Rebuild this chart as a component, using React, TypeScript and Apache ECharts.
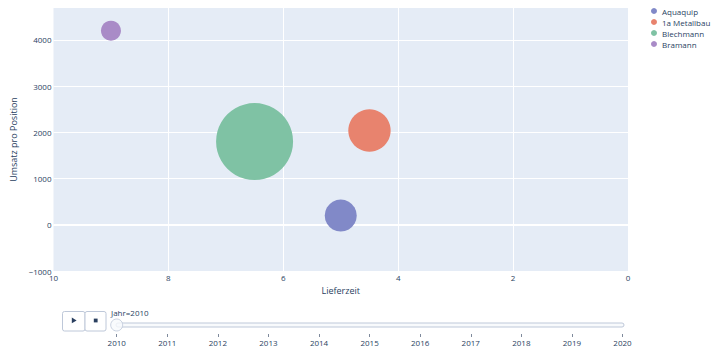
import React, { useEffect, useRef } from "react";
import * as echarts from "echarts";

const lieferanten = ["Aquaquip", "1a Metallbau", "Blechmann", "Bramann"];
const lieferzeit = [5.0, 4.5, 6.5, 9.0];
const umsatzProPosition = [200, 2040, 1800, 4200];
const anzahl = [69, 121, 400, 27];
const farben = ["#8189c8", "#e8836e", "#7fc2a4", "#a98bc7"];
const jahre = [2010, 2011, 2012, 2013, 2014, 2015, 2016, 2017, 2018, 2019, 2020];

const FONT = "'Open Sans', Verdana, Arial, sans-serif";
const TXT = "#2a3f5f";

const fmtNum = (v: number) => (v < 0 ? "\u2212" + Math.abs(v) : String(v));

export default function App() {
  const ref = useRef<HTMLDivElement>(null);
  useEffect(() => {
    if (!ref.current) return;
    const chart = echarts.init(ref.current, null, { renderer: "svg" });
    const maxSize = Math.max(...anzahl);
    const maxDiameter = 77;
    const series: any[] = lieferanten.map((name, i) => ({
      type: "scatter",
      name,
      xAxisIndex: 0,
      yAxisIndex: 0,
      data: [[lieferzeit[i], umsatzProPosition[i], anzahl[i]]],
      symbolSize: (v: number[]) => Math.sqrt(v[2] / maxSize) * maxDiameter,
      itemStyle: { color: farben[i], opacity: 1 },
      z: 3,
      markLine:
        i === 0
          ? {
              silent: true,
              symbol: "none",
              label: { show: false },
              lineStyle: { color: "#ffffff", width: 2, type: "solid" },
              data: [{ yAxis: 0 }],
              z: 1,
            }
          : undefined,
    }));
    series.push({
      type: "scatter",
      name: "slider",
      xAxisIndex: 1,
      yAxisIndex: 1,
      data: [[jahre[0], 1]],
      symbol: "circle",
      symbolSize: 12,
      itemStyle: { color: "#F8FAFC", borderColor: "#BEC8D9", borderWidth: 1 },
      z: 10,
      silent: true,
    });

    chart.setOption({
      animation: false,
      textStyle: { fontFamily: FONT },
      grid: [
        {
          left: 53.5,
          right: 715 - 628,
          top: 8,
          bottom: 355 - 271,
          show: true,
          backgroundColor: "#E5ECF6",
          borderWidth: 0,
        },
        { left: 116.7, right: 715 - 622.5, top: 316, height: 18, show: false },
      ],
      legend: {
        data: lieferanten,
        orient: "vertical",
        left: 646,
        top: 1,
        width: 69,
        icon: "circle",
        itemWidth: 6,
        itemHeight: 6,
        itemGap: 1,
        textStyle: { fontSize: 8, color: TXT, lineHeight: 10, fontFamily: FONT },
      },
      xAxis: [
        {
          type: "value",
          gridIndex: 0,
          min: 0,
          max: 10,
          interval: 2,
          inverse: true,
          name: "Lieferzeit",
          nameLocation: "middle",
          nameGap: 15,
          nameTextStyle: { fontSize: 9, color: TXT },
          axisLine: { show: false },
          axisTick: { show: false },
          axisLabel: { fontSize: 8, color: TXT, margin: 2, formatter: fmtNum },
          splitLine: {
            show: true,
            lineStyle: { color: "#ffffff", width: 1 },
            showMinLine: false,
            showMaxLine: false,
          },
        },
        {
          type: "value",
          gridIndex: 1,
          min: 2010,
          max: 2020,
          interval: 1,
          axisLine: { show: false },
          axisTick: { show: true, length: 3, lineStyle: { color: "#7f8a9c" } },
          axisLabel: { fontSize: 8, color: TXT, margin: 4, formatter: (v: number) => String(v) },
          splitLine: { show: false },
        },
      ],
      yAxis: [
        {
          type: "value",
          gridIndex: 0,
          min: -1000,
          max: 4690,
          interval: 1000,
          name: "Umsatz pro Position",
          nameLocation: "middle",
          nameGap: 36,
          nameTextStyle: { fontSize: 9, color: TXT },
          axisLine: { show: false },
          axisTick: { show: false },
          axisLabel: { fontSize: 8, color: TXT, margin: 2, showMaxLabel: false, formatter: fmtNum },
          splitLine: {
            show: true,
            lineStyle: { color: "#ffffff", width: 1 },
            showMinLine: false,
            showMaxLine: false,
          },
        },
        {
          type: "value",
          gridIndex: 1,
          min: 0,
          max: 2,
          show: false,
        },
      ],
      graphic: [
        {
          type: "rect",
          shape: { x: 116, y: 323, width: 508, height: 4, r: 2 },
          style: { fill: "#F8FAFC", stroke: "#BEC8D9", lineWidth: 1 },
          z: 1,
          silent: true,
        },
        {
          type: "rect",
          shape: { x: 62.5, y: 311.5, width: 22.5, height: 19.5, r: 2 },
          style: { fill: "#ffffff", stroke: "#BEC8D9", lineWidth: 1 },
          silent: true,
        },
        {
          type: "rect",
          shape: { x: 85, y: 311.5, width: 21, height: 19.5, r: 2 },
          style: { fill: "#ffffff", stroke: "#BEC8D9", lineWidth: 1 },
          silent: true,
        },
        {
          type: "polygon",
          shape: { points: [[71.8, 317.5], [71.8, 323.3], [76.6, 320.4]] },
          style: { fill: TXT },
          silent: true,
        },
        {
          type: "rect",
          shape: { x: 93.8, y: 318.6, width: 3.8, height: 3.8 },
          style: { fill: TXT },
          silent: true,
        },
        {
          type: "text",
          x: 111,
          y: 312.5,
          style: {
            text: `Jahr=${jahre[0]}`,
            fontSize: 8,
            fill: TXT,
            fontFamily: FONT,
            verticalAlign: "middle",
            align: "left",
          },
          silent: true,
        },
      ],
      series,
    });
    return () => chart.dispose();
  }, []);
  return (
    <div
      ref={ref}
      style={{ position: "fixed", left: 0, top: 0, width: 715, height: 355, background: "#ffffff" }}
    />
  );
}
